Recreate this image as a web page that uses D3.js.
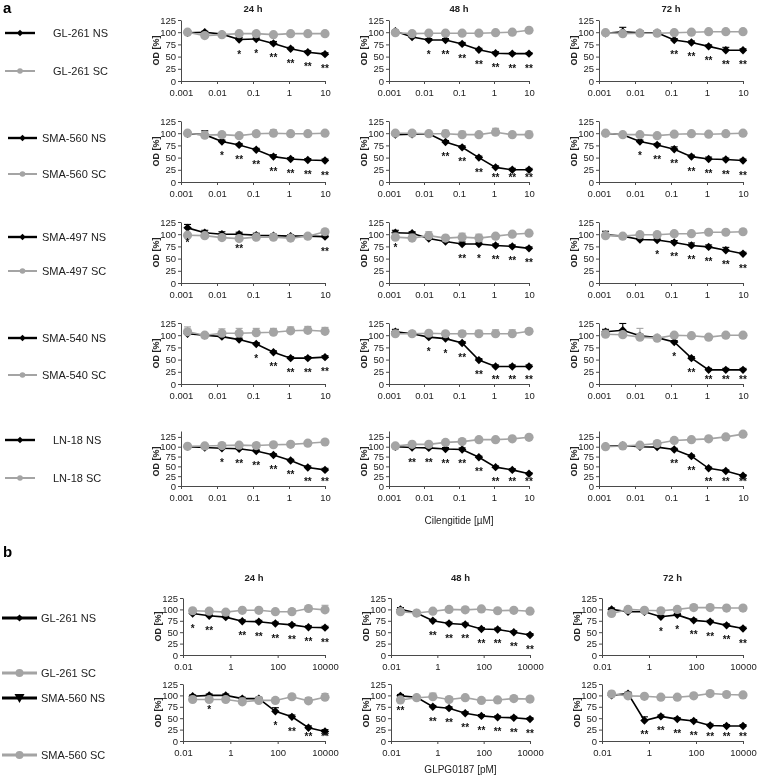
<!DOCTYPE html>
<html><head><meta charset="utf-8">
<script src="https://cdn.jsdelivr.net/npm/d3@7"></script>
<style>body{margin:0;background:#fff;} svg{font-family:"Liberation Sans",Arial,sans-serif;filter:grayscale(1);}</style>
</head><body><svg id="c" width="767" height="776"></svg>
<script>
// ---------------- DATA ----------------
const concA = [0.00152,0.00457,0.0137,0.0412,0.123,0.370,1.11,3.33,10];
const concB = [0.0256,0.128,0.64,3.2,16,80,400,2000,10000];
const timeLabels = ["24 h","48 h","72 h"];
const ticksA = [0.001,0.01,0.1,1,10];
const tickLabelsA = ["0.001","0.01","0.1","1","10"];
const ticksB = [0.01,1,100,10000];
const tickLabelsB = ["0.01","1","100","10000"];
const yTicks = [0,25,50,75,100,125];
const yTickLabels = ["0","25","50","75","100","125"];
const cellLinesA = ["GL-261","SMA-560","SMA-497","SMA-540","LN-18"];
const cellLinesB = ["GL-261","SMA-560"];
const xTitleA = "Cilengitide [µM]";
const xTitleB = "GLPG0187 [pM]";
const yTitle = "OD [%]";

// panel a — each array: [24 h, 48 h, 72 h]
const gl261NS_a = [[99,100,96,85,86,77,66,59,55],[102,90,84,84,76,64,57,56,56],[98,101,99,99,84,79,71,63,63]];
const gl261NSerr_a = [[2,2,2,4,4,4,3,3,3],[2,2,3,3,3,3,3,2,2],[3,9,4,4,3,3,3,6,3]];
const gl261SC_a = [[100,93,95,97,97,95,97,97,97],[99,97,98,98,98,98,99,100,104],[99,97,98,98,99,100,101,101,101]];
const gl261SCerr_a = [[2,2,2,2,2,2,2,2,2],[2,3,3,3,3,2,2,3,2],[2,2,2,2,2,2,2,2,2]];
const gl261Stars_a = [["","","","*","*","**","**","**","**"],["","","*","**","**","**","**","**","**"],["","","","","**","**","**","**","**"]];

const sma560NS_a = [[99,97,83,76,66,52,47,45,44],[97,98,99,82,71,50,30,25,25],[100,97,83,76,67,52,47,46,44]];
const sma560NSerr_a = [[3,8,3,3,3,4,3,3,3],[2,2,2,3,3,3,3,3,3],[2,2,3,3,5,3,4,3,3]];
const sma560SC_a = [[100,96,97,95,99,100,99,99,100],[100,100,99,99,97,97,102,97,97],[100,97,97,95,98,99,98,99,100]];
const sma560SCerr_a = [[3,7,5,3,4,7,3,3,3],[3,5,3,7,7,3,8,5,7],[2,2,2,2,2,2,2,2,2]];
const sma560Stars_a = [["","","*","**","**","**","**","**","**"],["","","","**","**","**","**","**","**"],["","","*","**","**","**","**","**","**"]];

const sma497NS_a = [[113,103,100,100,98,97,96,96,95],[103,102,91,85,80,80,77,75,71],[99,96,89,88,83,77,74,67,60]];
const sma497NSerr_a = [[7,5,5,4,4,3,3,3,3],[5,3,3,3,4,4,3,3,3],[7,3,3,4,4,5,4,6,3]];
const sma497SC_a = [[98,97,93,91,94,94,92,96,105],[94,92,97,92,94,92,96,100,102],[97,96,99,99,101,101,104,104,105]];
const sma497SCerr_a = [[3,3,3,3,3,3,3,3,3],[8,8,8,4,8,8,3,3,3],[3,3,5,5,4,3,3,3,3]];
const sma497Stars_a = [["*","","","**","","","","","**"],["*","","","","**","*","**","**","**"],["","","","*","**","**","**","**","**"]];

const sma540NS_a = [[103,100,97,91,82,65,53,53,55],[107,103,96,93,84,49,36,36,36],[107,110,99,95,86,53,29,29,29]];
const sma540NSerr_a = [[3,3,3,3,3,3,3,3,3],[5,3,3,3,3,3,3,3,3],[5,14,3,3,3,3,3,3,3]];
const sma540SC_a = [[107,100,104,104,105,106,109,110,108],[103,103,104,103,103,103,103,103,108],[102,101,96,94,100,99,96,100,100]];
const sma540SCerr_a = [[10,3,9,10,9,8,8,8,8],[3,3,3,3,6,7,8,8,5],[5,5,18,3,3,3,3,3,3]];
const sma540Stars_a = [["","","","","*","**","**","**","**"],["","","*","*","**","**","**","**","**"],["","","","","*","**","**","**","**"]];

const ln18NS_a = [[100,98,96,95,89,79,65,47,41],[100,98,97,94,93,73,48,41,31],[101,103,100,99,93,76,45,38,26]];
const ln18NSerr_a = [[2,2,2,2,3,3,3,4,4],[3,3,3,4,4,3,3,3,3],[3,3,3,3,3,3,3,3,3]];
const ln18SC_a = [[101,102,103,104,103,105,106,109,112],[102,106,106,111,113,118,118,120,124],[100,102,104,108,116,118,120,125,132]];
const ln18SCerr_a = [[2,2,2,2,2,2,2,2,2],[6,3,3,3,3,3,3,3,3],[3,3,3,4,3,3,3,3,3]];
const ln18Stars_a = [["","","*","**","**","**","**","**","**"],["","**","**","**","**","**","**","**","**"],["","","","","**","**","**","**","**"]];

// panel b
const gl261NS_b = [[91,86,83,74,73,69,66,61,60],[100,92,75,69,67,57,56,50,44],[100,95,95,84,88,76,73,65,58]];
const gl261NSerr_b = [[3,3,3,3,3,3,3,3,3],[4,3,3,3,3,3,3,3,3],[3,3,3,3,3,3,3,3,3]];
const gl261SC_b = [[97,96,94,98,98,95,95,102,99],[95,92,96,100,99,101,97,98,96],[91,100,98,97,100,104,104,103,103]];
const gl261SCerr_b = [[3,5,3,3,3,5,6,3,10],[3,3,3,3,3,4,3,3,3],[3,4,3,3,3,3,3,3,3]];
const gl261Stars_b = [["*","**","","**","**","**","**","**","**"],["","","**","**","**","**","**","**","**"],["","","","*","*","**","**","**","**"]];

const sma560NS_b = [[98,100,100,93,93,65,53,29,21],[99,96,75,72,61,55,52,51,48],[100,104,45,54,48,44,34,33,33]];
const sma560NSerr_b = [[3,3,3,3,3,8,4,4,4],[3,3,3,3,3,3,3,3,3],[3,3,8,3,3,3,3,3,3]];
const sma560SC_b = [[91,91,91,86,89,89,97,88,96],[90,95,97,91,95,89,90,93,92],[103,99,98,96,96,99,104,102,101]];
const sma560SCerr_b = [[3,3,3,8,3,5,3,7,8],[3,3,8,3,3,3,3,3,3],[6,3,3,3,3,3,3,3,3]];
const sma560Stars_b = [["","*","","","","*","**","**","**"],["**","","**","**","**","**","**","**","**"],["","","**","**","**","**","**","**","**"]];

// ---------------- LAYOUT ----------------
const svg = d3.select("#c");
const GREY = "#a4a4a4";
const AXIS = "#4a4a4a";
const colXA = [[181,325],[389,529],[599,743]];
const rowY0A = [81,182,283,384,486];
const rowTopA = [20,121,222,323,431];
const rowMaxA = [125,125,125,125,140];
const colXB = [[183,325],[391,530],[602,743]];
const rowY0B = [655,741];
const rowTopB = [598,684];

const rowsA = [
  [gl261NS_a,gl261NSerr_a,gl261SC_a,gl261SCerr_a,gl261Stars_a],
  [sma560NS_a,sma560NSerr_a,sma560SC_a,sma560SCerr_a,sma560Stars_a],
  [sma497NS_a,sma497NSerr_a,sma497SC_a,sma497SCerr_a,sma497Stars_a],
  [sma540NS_a,sma540NSerr_a,sma540SC_a,sma540SCerr_a,sma540Stars_a],
  [ln18NS_a,ln18NSerr_a,ln18SC_a,ln18SCerr_a,ln18Stars_a]
];
const rowsB = [
  [gl261NS_b,gl261NSerr_b,gl261SC_b,gl261SCerr_b,gl261Stars_b],
  [sma560NS_b,sma560NSerr_b,sma560SC_b,sma560SCerr_b,sma560Stars_b]
];

function diamond(s){ return `M0,${-s}L${s},0L0,${s}L${-s},0Z`; }

function drawPlot(o){
  const x = d3.scaleLog().domain(o.domain).range(o.xr);
  const y = d3.scaleLinear().domain([0,o.yMax]).range([o.y0,o.yTop]);
  const g = svg.append("g");
  const ya = g.append("g").attr("transform",`translate(${o.xr[0]},0)`)
    .call(d3.axisLeft(y).tickValues(yTicks).tickFormat((d,i)=>yTickLabels[i]).tickSize(3).tickSizeOuter(0).tickPadding(2));
  const xa = g.append("g").attr("transform",`translate(0,${o.y0})`)
    .call(d3.axisBottom(x).tickValues(o.ticks).tickFormat((d,i)=>o.labels[i]).tickSize(3).tickSizeOuter(0).tickPadding(5));
  [ya,xa].forEach(a=>{
    a.selectAll("path,line").attr("stroke",AXIS).attr("stroke-width",1);
    a.selectAll("text").attr("font-size",9.5).attr("fill","#222").attr("font-family","'Liberation Sans',Arial,sans-serif");
  });
  g.append("text").attr("transform",`translate(${o.xr[0]-22},${y(62.5)}) rotate(-90)`)
    .attr("text-anchor","middle").attr("font-size",9).attr("font-weight","bold").attr("fill","#222").text(yTitle);

  const line = d3.line().x((d,i)=>x(o.conc[i])).y(d=>y(d));
  function series(vals, errs, color, marker){
    const eg = g.append("g").attr("stroke",color).attr("stroke-width",1.1);
    vals.forEach((v,i)=>{
      const cx = x(o.conc[i]);
      eg.append("line").attr("x1",cx).attr("x2",cx).attr("y1",y(v)).attr("y2",y(v+errs[i]));
      eg.append("line").attr("x1",cx-3.5).attr("x2",cx+3.5).attr("y1",y(v+errs[i])).attr("y2",y(v+errs[i]));
    });
    g.append("path").datum(vals).attr("d",line).attr("fill","none").attr("stroke",color).attr("stroke-width",1.6);
    if(marker==="d"){
      g.selectAll(null).data(vals).enter().append("path")
        .attr("transform",(d,i)=>`translate(${x(o.conc[i])},${y(d)})`).attr("d",diamond(4.2)).attr("fill",color);
    } else {
      g.selectAll(null).data(vals).enter().append("circle")
        .attr("cx",(d,i)=>x(o.conc[i])).attr("cy",d=>y(d)).attr("r",4.6).attr("fill",color);
    }
  }
  series(o.ns,o.nsErr,"#000","d");
  series(o.sc,o.scErr,GREY,"c");
  g.selectAll(null).data(o.stars).enter().append("text")
    .attr("x",(d,i)=>x(o.conc[i])).attr("y",(d,i)=>Math.min(y(o.ns[i])+18, o.y0-1))
    .attr("text-anchor","middle").attr("font-size",10).attr("font-weight","bold").attr("fill","#111").text(d=>d);
}

// panel a
rowsA.forEach((r,ri)=>{
  colXA.forEach((xr,ci)=>{
    drawPlot({domain:[0.001,10],xr,y0:rowY0A[ri],yTop:rowTopA[ri],yMax:rowMaxA[ri],ticks:ticksA,labels:tickLabelsA,conc:concA,
      ns:r[0][ci],nsErr:r[1][ci],sc:r[2][ci],scErr:r[3][ci],stars:r[4][ci]});
  });
});
// panel b
rowsB.forEach((r,ri)=>{
  colXB.forEach((xr,ci)=>{
    drawPlot({domain:[0.01,10000],xr,y0:rowY0B[ri],yTop:rowTopB[ri],yMax:125,ticks:ticksB,labels:tickLabelsB,conc:concB,
      ns:r[0][ci],nsErr:r[1][ci],sc:r[2][ci],scErr:r[3][ci],stars:r[4][ci]});
  });
});

// titles
colXA.forEach((xr,ci)=>svg.append("text").attr("x",(xr[0]+xr[1])/2).attr("y",12).attr("text-anchor","middle")
  .attr("font-size",9.5).attr("font-weight","bold").attr("fill","#222").text(timeLabels[ci]));
colXB.forEach((xr,ci)=>svg.append("text").attr("x",(xr[0]+xr[1])/2).attr("y",581).attr("text-anchor","middle")
  .attr("font-size",9.5).attr("font-weight","bold").attr("fill","#222").text(timeLabels[ci]));
svg.append("text").attr("x",(colXA[1][0]+colXA[1][1])/2).attr("y",524).attr("text-anchor","middle").attr("font-size",10).attr("fill","#222").text(xTitleA);
svg.append("text").attr("x",(colXB[1][0]+colXB[1][1])/2).attr("y",773).attr("text-anchor","middle").attr("font-size",10).attr("fill","#222").text(xTitleB);
svg.append("text").attr("x",3).attr("y",13).attr("font-size",15).attr("font-weight","bold").text("a");
svg.append("text").attr("x",3).attr("y",557).attr("font-size",15).attr("font-weight","bold").text("b");

// legends
const legA = [[33,71,5,35,53],[138,174,8,37,42],[237,271,8,37,42],[338,375,8,37,42],[440,478,5,35,53]];
function legendItem(yy,x1,x2,tx,label,ns,w,ms,tri){
  const color = ns?"#000":GREY;
  svg.append("line").attr("x1",x1).attr("x2",x2).attr("y1",yy).attr("y2",yy).attr("stroke",color).attr("stroke-width",w);
  const mx=(x1+x2)/2;
  if(ns){
    if(tri) svg.append("path").attr("d",`M${mx-5},${yy-4}L${mx+5},${yy-4}L${mx},${yy+5}Z`).attr("fill","#000");
    else svg.append("path").attr("transform",`translate(${mx},${yy})`).attr("d",diamond(ms)).attr("fill","#000");
  } else svg.append("circle").attr("cx",mx).attr("cy",yy).attr("r",ms).attr("fill",color);
  svg.append("text").attr("x",tx).attr("y",yy).attr("dy","0.35em").attr("font-size",11).attr("fill","#222").text(label);
}
cellLinesA.forEach((c,i)=>{
  const L = legA[i];
  legendItem(L[0],L[2],L[3],L[4],c+" NS",true,2.4,3.2);
  legendItem(L[1],L[2],L[3],L[4],c+" SC",false,2,2.8);
});
const legB = [[618,673],[698,755]];
cellLinesB.forEach((c,i)=>{
  legendItem(legB[i][0],2,37,41,c+" NS",true,3,3.6,i===1);
  legendItem(legB[i][1],2,37,41,c+" SC",false,3,4);
});
</script></body></html>
